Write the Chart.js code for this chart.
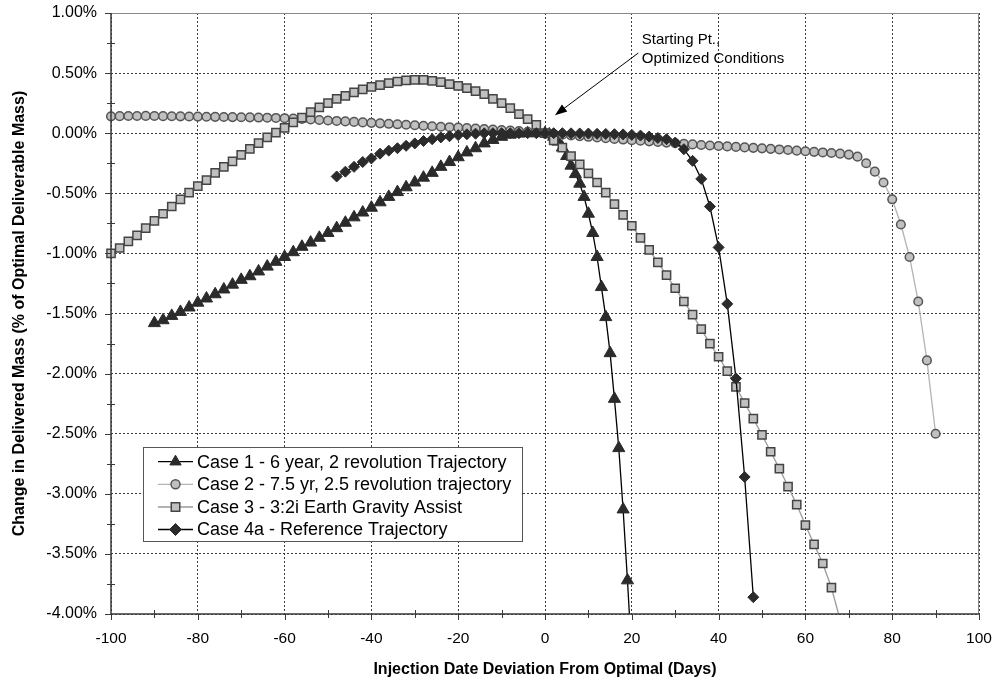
<!DOCTYPE html>
<html><head><meta charset="utf-8">
<script src="https://cdn.jsdelivr.net/npm/chart.js@4.4.0/dist/chart.umd.min.js"></script>
<style>html,body{margin:0;padding:0;background:#fff;}#wrap{width:1000px;height:686px;}</style>
</head><body><div id="wrap"><canvas id="c" width="1000" height="686"></canvas></div>
<script>
// ---- Data ----
const seriesNames = [
  'Case 1 - 6 year, 2 revolution Trajectory',
  'Case 2 - 7.5 yr, 2.5 revolution trajectory',
  'Case 3 - 3:2i Earth Gravity Assist',
  'Case 4a - Reference Trajectory'
];
const case1X = [-90,-88,-86,-84,-82,-80,-78,-76,-74,-72,-70,-68,-66,-64,-62,-60,-58,-56,-54,-52,-50,-48,-46,-44,-42,-40,-38,-36,-34,-32,-30,-28,-26,-24,-22,-20,-18,-16,-14,-12,-10,-8,-6,-4,-2,0,1,2,3,4,5,6,7,8,9,10,11,12,13,14,15,16,17,18,19,20];
const case1Y = [-1.58,-1.556,-1.52,-1.487,-1.45,-1.41,-1.375,-1.34,-1.30,-1.26,-1.22,-1.19,-1.15,-1.11,-1.07,-1.03,-0.99,-0.945,-0.91,-0.87,-0.83,-0.79,-0.745,-0.70,-0.66,-0.62,-0.575,-0.53,-0.49,-0.45,-0.41,-0.37,-0.33,-0.28,-0.24,-0.20,-0.16,-0.125,-0.085,-0.056,-0.03,-0.012,-0.003,0.0,0.0,0.0,-0.01,-0.03,-0.07,-0.12,-0.19,-0.27,-0.34,-0.42,-0.53,-0.67,-0.83,-1.03,-1.28,-1.53,-1.83,-2.21,-2.62,-3.13,-3.72,-4.35];

const case2X = [-100,-98,-96,-94,-92,-90,-88,-86,-84,-82,-80,-78,-76,-74,-72,-70,-68,-66,-64,-62,-60,-58,-56,-54,-52,-50,-48,-46,-44,-42,-40,-38,-36,-34,-32,-30,-28,-26,-24,-22,-20,-18,-16,-14,-12,-10,-8,-6,-4,-2,0,2,4,6,8,10,12,14,16,18,20,22,24,26,28,30,32,34,36,38,40,42,44,46,48,50,52,54,56,58,60,62,64,66,68,70,72,74,76,78,80,82,84,86,88,90];
const case2Y = [0.140,0.142,0.143,0.143,0.144,0.143,0.142,0.141,0.140,0.139,0.138,0.137,0.136,0.135,0.134,0.133,0.132,0.130,0.129,0.127,0.125,0.122,0.118,0.114,0.110,0.106,0.102,0.098,0.094,0.090,0.086,0.082,0.078,0.074,0.070,0.066,0.062,0.058,0.054,0.050,0.046,0.042,0.038,0.034,0.030,0.026,0.022,0.017,0.012,0.006,0.000,-0.006,-0.012,-0.018,-0.024,-0.030,-0.036,-0.042,-0.048,-0.053,-0.058,-0.063,-0.068,-0.073,-0.078,-0.083,-0.088,-0.093,-0.098,-0.102,-0.106,-0.110,-0.114,-0.118,-0.122,-0.126,-0.130,-0.135,-0.140,-0.145,-0.150,-0.155,-0.160,-0.165,-0.170,-0.178,-0.195,-0.25,-0.32,-0.41,-0.55,-0.76,-1.03,-1.40,-1.89,-2.50];

const case3X = [-100,-98,-96,-94,-92,-90,-88,-86,-84,-82,-80,-78,-76,-74,-72,-70,-68,-66,-64,-62,-60,-58,-56,-54,-52,-50,-48,-46,-44,-42,-40,-38,-36,-34,-32,-30,-28,-26,-24,-22,-20,-18,-16,-14,-12,-10,-8,-6,-4,-2,0,2,4,6,8,10,12,14,16,18,20,22,24,26,28,30,32,34,36,38,40,42,44,46,48,50,52,54,56,58,60,62,64,66,68];
const case3Y = [-1.00,-0.955,-0.90,-0.85,-0.79,-0.73,-0.67,-0.61,-0.55,-0.495,-0.44,-0.39,-0.33,-0.28,-0.235,-0.18,-0.13,-0.083,-0.035,0.005,0.045,0.09,0.13,0.175,0.215,0.25,0.285,0.31,0.34,0.365,0.385,0.40,0.417,0.43,0.44,0.444,0.444,0.436,0.425,0.408,0.394,0.375,0.35,0.325,0.286,0.25,0.208,0.158,0.117,0.069,0.0,-0.06,-0.12,-0.19,-0.26,-0.335,-0.41,-0.495,-0.59,-0.68,-0.77,-0.87,-0.97,-1.075,-1.18,-1.29,-1.40,-1.51,-1.63,-1.75,-1.86,-1.98,-2.11,-2.245,-2.375,-2.51,-2.65,-2.79,-2.94,-3.09,-3.26,-3.42,-3.58,-3.78,-4.05];

const case4X = [-48,-46,-44,-42,-40,-38,-36,-34,-32,-30,-28,-26,-24,-22,-20,-18,-16,-14,-12,-10,-8,-6,-4,-2,0,2,4,6,8,10,12,14,16,18,20,22,24,26,28,30,32,34,36,38,40,42,44,46,48];
const case4Y = [-0.36,-0.32,-0.28,-0.24,-0.21,-0.17,-0.145,-0.125,-0.105,-0.085,-0.065,-0.05,-0.035,-0.025,-0.016,-0.009,-0.004,-0.001,0.0,0.0,0.0,0.0,0.0,0.0,0.0,0.0,0.0,-0.001,-0.002,-0.003,-0.005,-0.006,-0.008,-0.010,-0.014,-0.02,-0.028,-0.04,-0.05,-0.078,-0.133,-0.23,-0.38,-0.61,-0.95,-1.42,-2.04,-2.86,-3.86];

const xTicks = [-100,-80,-60,-40,-20,0,20,40,60,80,100];
const yTicks = [-4,-3.5,-3,-2.5,-2,-1.5,-1,-0.5,0,0.5,1];
const xTitle = 'Injection Date Deviation From Optimal (Days)';
const yTitle = 'Change in Delivered Mass (% of Optimal Deliverable Mass)';
const noteLines = ['Starting Pt.,', 'Optimized Conditions'];
const noteTextAt = [22.3, 0.78, 0.62];      // x, y line1, y line2 (data units)
const noteArrow = [21.5, 0.667, 2.3, 0.15]; // from x,y to x,y (data units)

// ---- Build ----
const FONT = '"Liberation Sans", Arial, sans-serif';
function pts(xs, ys){ return xs.map((x,i)=>({x:x, y:ys[i]})); }

const styles = [
  {line:'#000000', fill:'#2b2b2b', border:'#2b2b2b', shape:'triangle', r:7, bw:1},
  {line:'#b4b4b4', fill:'#c0c0c0', border:'#555555', shape:'circle', r:4.3, bw:1.5},
  {line:'#9a9a9a', fill:'#c0c0c0', border:'#444444', shape:'rect', r:5.8, bw:1.5},
  {line:'#000000', fill:'#2b2b2b', border:'#2b2b2b', shape:'rectRot', r:5.5, bw:1}
];
const allX = [case1X, case2X, case3X, case4X];
const allY = [case1Y, case2Y, case3Y, case4Y];
const orders = [4,3,2,1];
const datasets = seriesNames.map((n,i)=>({
  label:n, data:pts(allX[i], allY[i]),
  borderColor:styles[i].line, borderWidth:1.3,
  pointStyle:styles[i].shape, pointRadius:styles[i].r,
  pointBackgroundColor:styles[i].fill, pointBorderColor:styles[i].border,
  pointBorderWidth:styles[i].bw, tension:0, fill:false, order:orders[i],
  clip:{left:12, top:12, right:12, bottom:0}
}));

function drawMarker(ctx, shape, x, y, r, fill, stroke, bw){
  ctx.save();
  ctx.fillStyle = fill; ctx.strokeStyle = stroke; ctx.lineWidth = bw;
  ctx.beginPath();
  if (shape==='triangle'){
    ctx.moveTo(x, y - r);
    ctx.lineTo(x + r*Math.sin(2*Math.PI/3), y - r*Math.cos(2*Math.PI/3));
    ctx.lineTo(x + r*Math.sin(4*Math.PI/3), y - r*Math.cos(4*Math.PI/3));
    ctx.closePath();
  } else if (shape==='circle'){
    ctx.arc(x, y, r, 0, Math.PI*2);
  } else if (shape==='rect'){
    const s = r*Math.SQRT1_2; ctx.rect(x-s, y-s, 2*s, 2*s);
  } else {
    ctx.moveTo(x-r,y); ctx.lineTo(x,y-r); ctx.lineTo(x+r,y); ctx.lineTo(x,y+r); ctx.closePath();
  }
  ctx.fill(); ctx.stroke(); ctx.restore();
}

const decor = {
  id:'decor',
  afterDraw(chart){
    const ctx = chart.ctx, a = chart.chartArea;
    const xs = chart.scales.x, ys = chart.scales.y;
    ctx.save();
    ctx.strokeStyle = '#8a8a8a'; ctx.lineWidth = 1;
    ctx.beginPath(); ctx.moveTo(a.left, a.top+0.5); ctx.lineTo(a.right-0.5, a.top+0.5); ctx.lineTo(a.right-0.5, a.bottom); ctx.stroke();
    ctx.strokeStyle = '#3a3a3a'; ctx.lineWidth = 1.5;
    ctx.beginPath(); ctx.moveTo(a.left, a.top); ctx.lineTo(a.left, a.bottom); ctx.lineTo(a.right, a.bottom); ctx.stroke();
    ctx.lineWidth = 1;
    for (let v=-4; v<=1.0001; v+=0.25){
      const py = Math.round(ys.getPixelForValue(v))+0.5;
      const major = Math.abs(v*2 - Math.round(v*2))<1e-6;
      ctx.beginPath();
      if (major){ ctx.moveTo(a.left-6, py); ctx.lineTo(a.left, py); }
      else { ctx.moveTo(a.left-4, py); ctx.lineTo(a.left+4, py); }
      ctx.stroke();
    }
    for (let v=-100; v<=100; v+=10){
      const px = Math.round(xs.getPixelForValue(v))+0.5;
      const major = (v % 20) === 0;
      ctx.beginPath();
      if (major){ ctx.moveTo(px, a.bottom); ctx.lineTo(px, a.bottom+6); }
      else { ctx.moveTo(px, a.bottom-4); ctx.lineTo(px, a.bottom+4); }
      ctx.stroke();
    }
    // annotation
    ctx.fillStyle = '#000'; ctx.font = '15px ' + FONT; ctx.textBaseline = 'middle'; ctx.textAlign = 'left';
    const tx = xs.getPixelForValue(noteTextAt[0]);
    ctx.fillText(noteLines[0], tx, ys.getPixelForValue(noteTextAt[1]));
    ctx.fillText(noteLines[1], tx, ys.getPixelForValue(noteTextAt[2]));
    const x1 = xs.getPixelForValue(noteArrow[0]), y1 = ys.getPixelForValue(noteArrow[1]);
    const x2 = xs.getPixelForValue(noteArrow[2]), y2 = ys.getPixelForValue(noteArrow[3]);
    ctx.strokeStyle = '#000'; ctx.lineWidth = 1;
    const ang = Math.atan2(y2-y1, x2-x1);
    ctx.beginPath(); ctx.moveTo(x1,y1); ctx.lineTo(x2 - 8*Math.cos(ang), y2 - 8*Math.sin(ang)); ctx.stroke();
    ctx.beginPath();
    ctx.moveTo(x2, y2);
    ctx.lineTo(x2 - 12*Math.cos(ang) + 4.5*Math.sin(ang), y2 - 12*Math.sin(ang) - 4.5*Math.cos(ang));
    ctx.lineTo(x2 - 12*Math.cos(ang) - 4.5*Math.sin(ang), y2 - 12*Math.sin(ang) + 4.5*Math.cos(ang));
    ctx.closePath(); ctx.fillStyle = '#000'; ctx.fill();
    // legend
    const L = {x:143, y:447, w:379, h:94};
    ctx.fillStyle = '#fff'; ctx.fillRect(L.x, L.y, L.w, L.h);
    ctx.strokeStyle = '#555'; ctx.lineWidth = 1; ctx.strokeRect(L.x+0.5, L.y+0.5, L.w, L.h);
    const rowY = [461.7, 484.3, 507, 529.5];
    const legR = [6.5, 4.5, 6, 6];
    ctx.font = '18px ' + FONT;
    seriesNames.forEach((n,i)=>{
      const y = rowY[i];
      ctx.strokeStyle = styles[i].line; ctx.lineWidth = 1.3;
      ctx.beginPath(); ctx.moveTo(158, y); ctx.lineTo(193, y); ctx.stroke();
      drawMarker(ctx, styles[i].shape, 175.5, y, legR[i], styles[i].fill, styles[i].border, styles[i].bw);
      ctx.fillStyle = '#000'; ctx.textAlign = 'left'; ctx.textBaseline = 'middle';
      ctx.fillText(n, 197, y + 1);
    });
    ctx.restore();
  }
};

new Chart(document.getElementById('c'), {
  type:'line',
  data:{datasets:datasets},
  options:{
    responsive:false, animation:false, devicePixelRatio:1,
    layout:{padding:{left:0, right:21, top:13, bottom:0}},
    plugins:{legend:{display:false}, tooltip:{enabled:false}},
    scales:{
      x:{type:'linear', min:-100, max:100,
        afterBuildTicks:(s)=>{ s.ticks = xTicks.map(v=>({value:v})); },
        afterFit:(s)=>{ s.height = 72; },
        ticks:{color:'#000', font:{family:FONT, size:15.5}, padding:0, maxRotation:0, autoSkip:false,
          callback:(v)=>String(v)},
        grid:{color:'#3c3c3c', lineWidth:1, drawTicks:true, tickLength:15, tickColor:'rgba(0,0,0,0)'},
        border:{display:false, dash:[2,2]},
        title:{display:true, text:xTitle, color:'#000', font:{family:FONT, size:16, weight:'bold'}, padding:{top:0, bottom:7}}
      },
      y:{type:'linear', min:-4, max:1,
        afterBuildTicks:(s)=>{ s.ticks = yTicks.map(v=>({value:v})); },
        afterFit:(s)=>{ s.width = 111; },
        ticks:{color:'#000', font:{family:FONT, size:16}, padding:0, autoSkip:false,
          callback:(v)=>v.toFixed(2)+'%'},
        grid:{color:'#3c3c3c', lineWidth:1, drawTicks:true, tickLength:14, tickColor:'rgba(0,0,0,0)'},
        border:{display:false, dash:[2,2]},
        title:{display:true, text:yTitle, color:'#000', font:{family:FONT, size:16, weight:'bold'}, padding:{top:10, bottom:0}}
      }
    }
  },
  plugins:[decor]
});
</script></body></html>
